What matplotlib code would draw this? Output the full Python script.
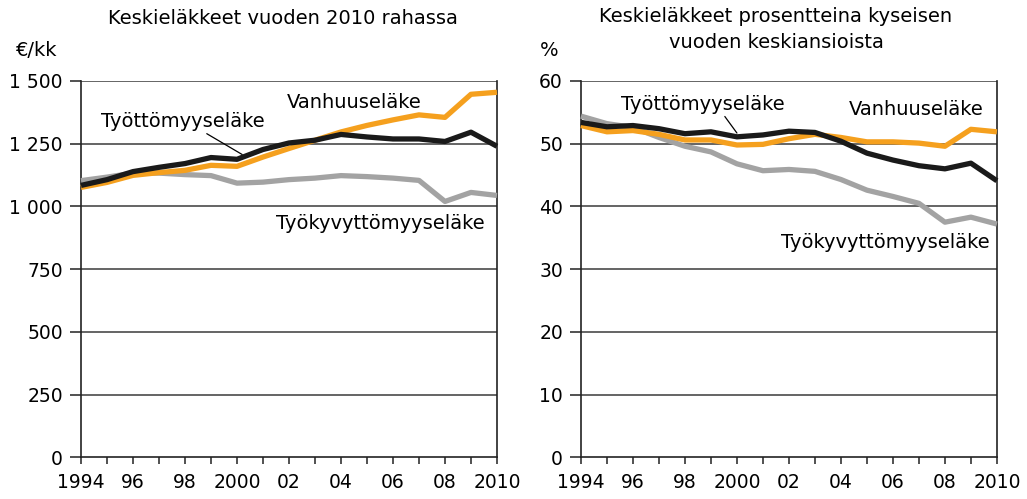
import matplotlib
matplotlib.use("Agg")
import matplotlib.pyplot as plt

plt.rcParams['font.family'] = ['DejaVu Sans']

years = list(range(1994, 2011))

# Left: average pensions in 2010 money (€/month)
vanhuus_eur = [1076, 1096, 1124, 1135, 1144, 1164, 1160, 1197, 1231, 1264, 1297, 1323, 1345, 1365, 1355, 1447, 1455]
tyotto_eur = [1084, 1107, 1139, 1156, 1171, 1195, 1188, 1227, 1253, 1264, 1287, 1277, 1269, 1269, 1259, 1296, 1240]
tyokyv_eur = [1103, 1117, 1133, 1133, 1127, 1123, 1093, 1097, 1107, 1113, 1123, 1119, 1113, 1104, 1020, 1056, 1044]

# Right: average pensions as % of average earnings
vanhuus_pct = [52.9, 51.9, 52.1, 51.5, 50.6, 50.6, 49.8, 49.9, 50.8, 51.5, 51.0, 50.3, 50.3, 50.1, 49.6, 52.3, 51.9]
tyotto_pct = [53.4, 52.7, 52.9, 52.4, 51.6, 51.9, 51.1, 51.4, 52.0, 51.8, 50.4, 48.5, 47.4, 46.5, 46.0, 46.9, 44.1]
tyokyv_pct = [54.4, 53.2, 52.6, 51.0, 49.6, 48.7, 46.8, 45.7, 45.9, 45.6, 44.3, 42.6, 41.6, 40.5, 37.5, 38.3, 37.2]

left_yticks = [0, 250, 500, 750, 1000, 1250, 1500]
left_ylabels = ['0', '250', '500', '750', '1 000', '1 250', '1 500']
right_yticks = [0, 10, 20, 30, 40, 50, 60]
right_ylabels = ['0', '10', '20', '30', '40', '50', '60']
xtick_years = [1994, 1996, 1998, 2000, 2002, 2004, 2006, 2008, 2010]
xtick_labels = ['1994', '96', '98', '2000', '02', '04', '06', '08', '2010']

titles = ['Keskieläkkeet vuoden 2010 rahassa',
          'Keskieläkkeet prosentteina kyseisen', 'vuoden keskiansioista']
units = ['€/kk', '%']
names = ['Vanhuuseläke', 'Työttömyyseläke', 'Työkyvyttömyyseläke']

ORANGE = '#F5A01E'
BLACK = '#1A1A1A'
GRAY = '#A3A3A3'
FS = 14
TFS = 13.5

fig = plt.figure(figsize=(10.27, 4.99), dpi=100)
axL = fig.add_axes([0.0789, 0.0832, 0.4050, 0.7545])
axR = fig.add_axes([0.5657, 0.0832, 0.4050, 0.7545])

def style(ax, yticks, ylabels, ymax):
    ax.set_xlim(1994, 2010)
    ax.set_ylim(0, ymax)
    ax.set_yticks(yticks)
    ax.set_yticklabels(ylabels)
    ax.set_xticks(years)
    ax.set_xticklabels([xtick_labels[xtick_years.index(y)] if y in xtick_years else '' for y in years])
    for y in yticks[1:]:
        ax.axhline(y, color='#3a3a3a', lw=1.1, zorder=1)
    ax.spines['top'].set_visible(False)
    for s in ['left', 'right', 'bottom']:
        ax.spines[s].set_color('#222222')
        ax.spines[s].set_linewidth(1.2)
    ax.tick_params(axis='y', length=8, width=1.1, direction='out', labelsize=TFS, pad=5, colors='#222222')
    ax.tick_params(axis='x', length=5, width=1.1, direction='out', labelsize=TFS, pad=6, colors='#222222')
    for lab in ax.get_xticklabels() + ax.get_yticklabels():
        lab.set_color('black')
    ax.set_facecolor('white')

style(axL, left_yticks, left_ylabels, 1500)
style(axR, right_yticks, right_ylabels, 60)

lw = 3.8
for ax, v, t, k in [(axL, vanhuus_eur, tyotto_eur, tyokyv_eur),
                    (axR, vanhuus_pct, tyotto_pct, tyokyv_pct)]:
    ax.plot(years, k, color=GRAY, lw=lw, zorder=3, solid_capstyle='butt', clip_on=False)
    ax.plot(years, v, color=ORANGE, lw=lw, zorder=4, solid_capstyle='butt', clip_on=False)
    ax.plot(years, t, color=BLACK, lw=lw, zorder=5, solid_capstyle='butt', clip_on=False)

# Left annotations
axL.text(2004.5, 1414, names[0], fontsize=FS, ha='center', va='center')
axL.annotate(names[1], xy=(2000.2, 1207), xytext=(1997.9, 1339), fontsize=FS,
             ha='center', va='center',
             arrowprops=dict(arrowstyle='-', color='black', lw=0.9, shrinkA=0, shrinkB=0,
                             relpos=(0.62, 0.0)))
axL.text(2005.5, 932, names[2], fontsize=FS, ha='center', va='center')

# Right annotations
axR.text(2006.9, 55.4, names[0], fontsize=FS, ha='center', va='center')
axR.annotate(names[1], xy=(2000.0, 51.7), xytext=(1998.7, 56.3), fontsize=FS,
             ha='center', va='center',
             arrowprops=dict(arrowstyle='-', color='black', lw=0.9, shrinkA=0, shrinkB=0,
                             relpos=(0.62, 0.0)))
axR.text(2005.7, 34.2, names[2], fontsize=FS, ha='center', va='center')

# Titles and units
fig.text(283 / 1027, 1 - 18 / 499, titles[0], fontsize=FS, ha='center', va='center')
fig.text(776 / 1027, 1 - 17 / 499, titles[1], fontsize=FS, ha='center', va='center')
fig.text(776 / 1027, 1 - 42 / 499, titles[2], fontsize=FS, ha='center', va='center')
fig.text(37 / 1027, 1 - 50 / 499, units[0], fontsize=FS, ha='center', va='center')
fig.text(549 / 1027, 1 - 51 / 499, units[1], fontsize=FS, ha='center', va='center')

fig.savefig('out.png', dpi=100, facecolor='white')
